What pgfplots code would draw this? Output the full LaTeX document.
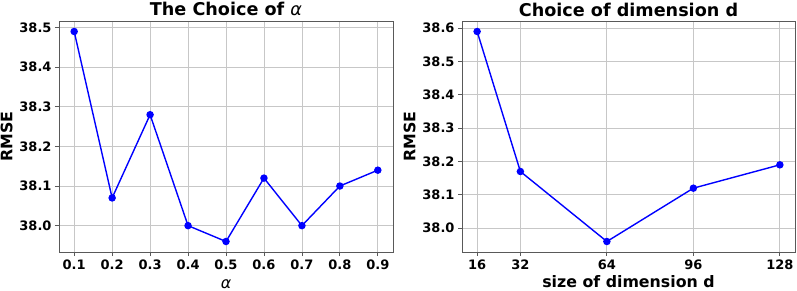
\documentclass[border=0pt]{standalone}
\usepackage{pgfplots}
\pgfplotsset{compat=1.18}
\usepackage{fontspec}
\setmainfont{DejaVu Sans}
\newfontfamily\dvi{DejaVu Sans Oblique}
\begin{document}
\begin{tikzpicture}
\useasboundingbox (0,0) rectangle (797bp,291bp);
\pgfplotsset{
  every axis title shift=0pt,
  every axis/.style={
    scale only axis,
    width=334bp, height=231bp,
    axis line style={draw=black!65, line width=0.9bp},
    tick style={draw=black!65, line width=0.8bp},
    tick align=outside,
    major tick length=4bp,
    xtick pos=bottom, ytick pos=left,
    grid=major,
    major grid style={draw=black!22, line width=0.8bp},
    ticklabel style={font=\fontsize{13bp}{15bp}\selectfont\bfseries},
    /pgf/number format/assume math mode=true,
    label style={font=\fontsize{15.8bp}{18bp}\selectfont\bfseries},
    title style={font=\fontsize{17.6bp}{20bp}\selectfont\bfseries, at={(0.5,1)}, anchor=base, yshift=5bp},
    /pgf/number format/.cd, fixed, fixed zerofill, precision=1,
  },
}
\begin{axis}[
  at={(59bp,39bp)}, anchor=south west,
  xmin=0.06, xmax=0.94,
  ymin=37.9335, ymax=38.5165,
  xtick={0.1,0.2,0.3,0.4,0.5,0.6,0.7,0.8,0.9},
  ytick={38.0,38.1,38.2,38.3,38.4,38.5},
  title={The Choice of {\dvi\mdseries α}},
  xlabel={{\dvi\mdseries α}},
  ylabel={RMSE},
  xlabel style={at={(0.5,0)}, anchor=base, yshift=-36bp},
]
\addplot[blue, line width=1.4bp, mark=*, mark size=3bp, mark options={fill=blue, draw=blue}]
coordinates {(0.1,38.49) (0.2,38.07) (0.3,38.28) (0.4,38.00) (0.5,37.96) (0.6,38.12) (0.7,38.00) (0.8,38.10) (0.9,38.14)};
\end{axis}
\begin{axis}[
  at={(462bp,39bp)}, anchor=south west,
  width=333bp,
  xmin=10.4, xmax=133.6,
  ymin=37.9285, ymax=38.6215,
  xtick={16,32,64,96,128},
  xticklabels={16,32,64,96,128},
  ytick={38.0,38.1,38.2,38.3,38.4,38.5,38.6},
  title={Choice of dimension d},
  xlabel={size of dimension d},
  ylabel={RMSE},
  xlabel style={at={(0.5,0)}, anchor=base, yshift=-35bp},
]
\addplot[blue, line width=1.4bp, mark=*, mark size=3bp, mark options={fill=blue, draw=blue}]
coordinates {(16,38.59) (32,38.17) (64,37.96) (96,38.12) (128,38.19)};
\end{axis}
\end{tikzpicture}
\end{document}
